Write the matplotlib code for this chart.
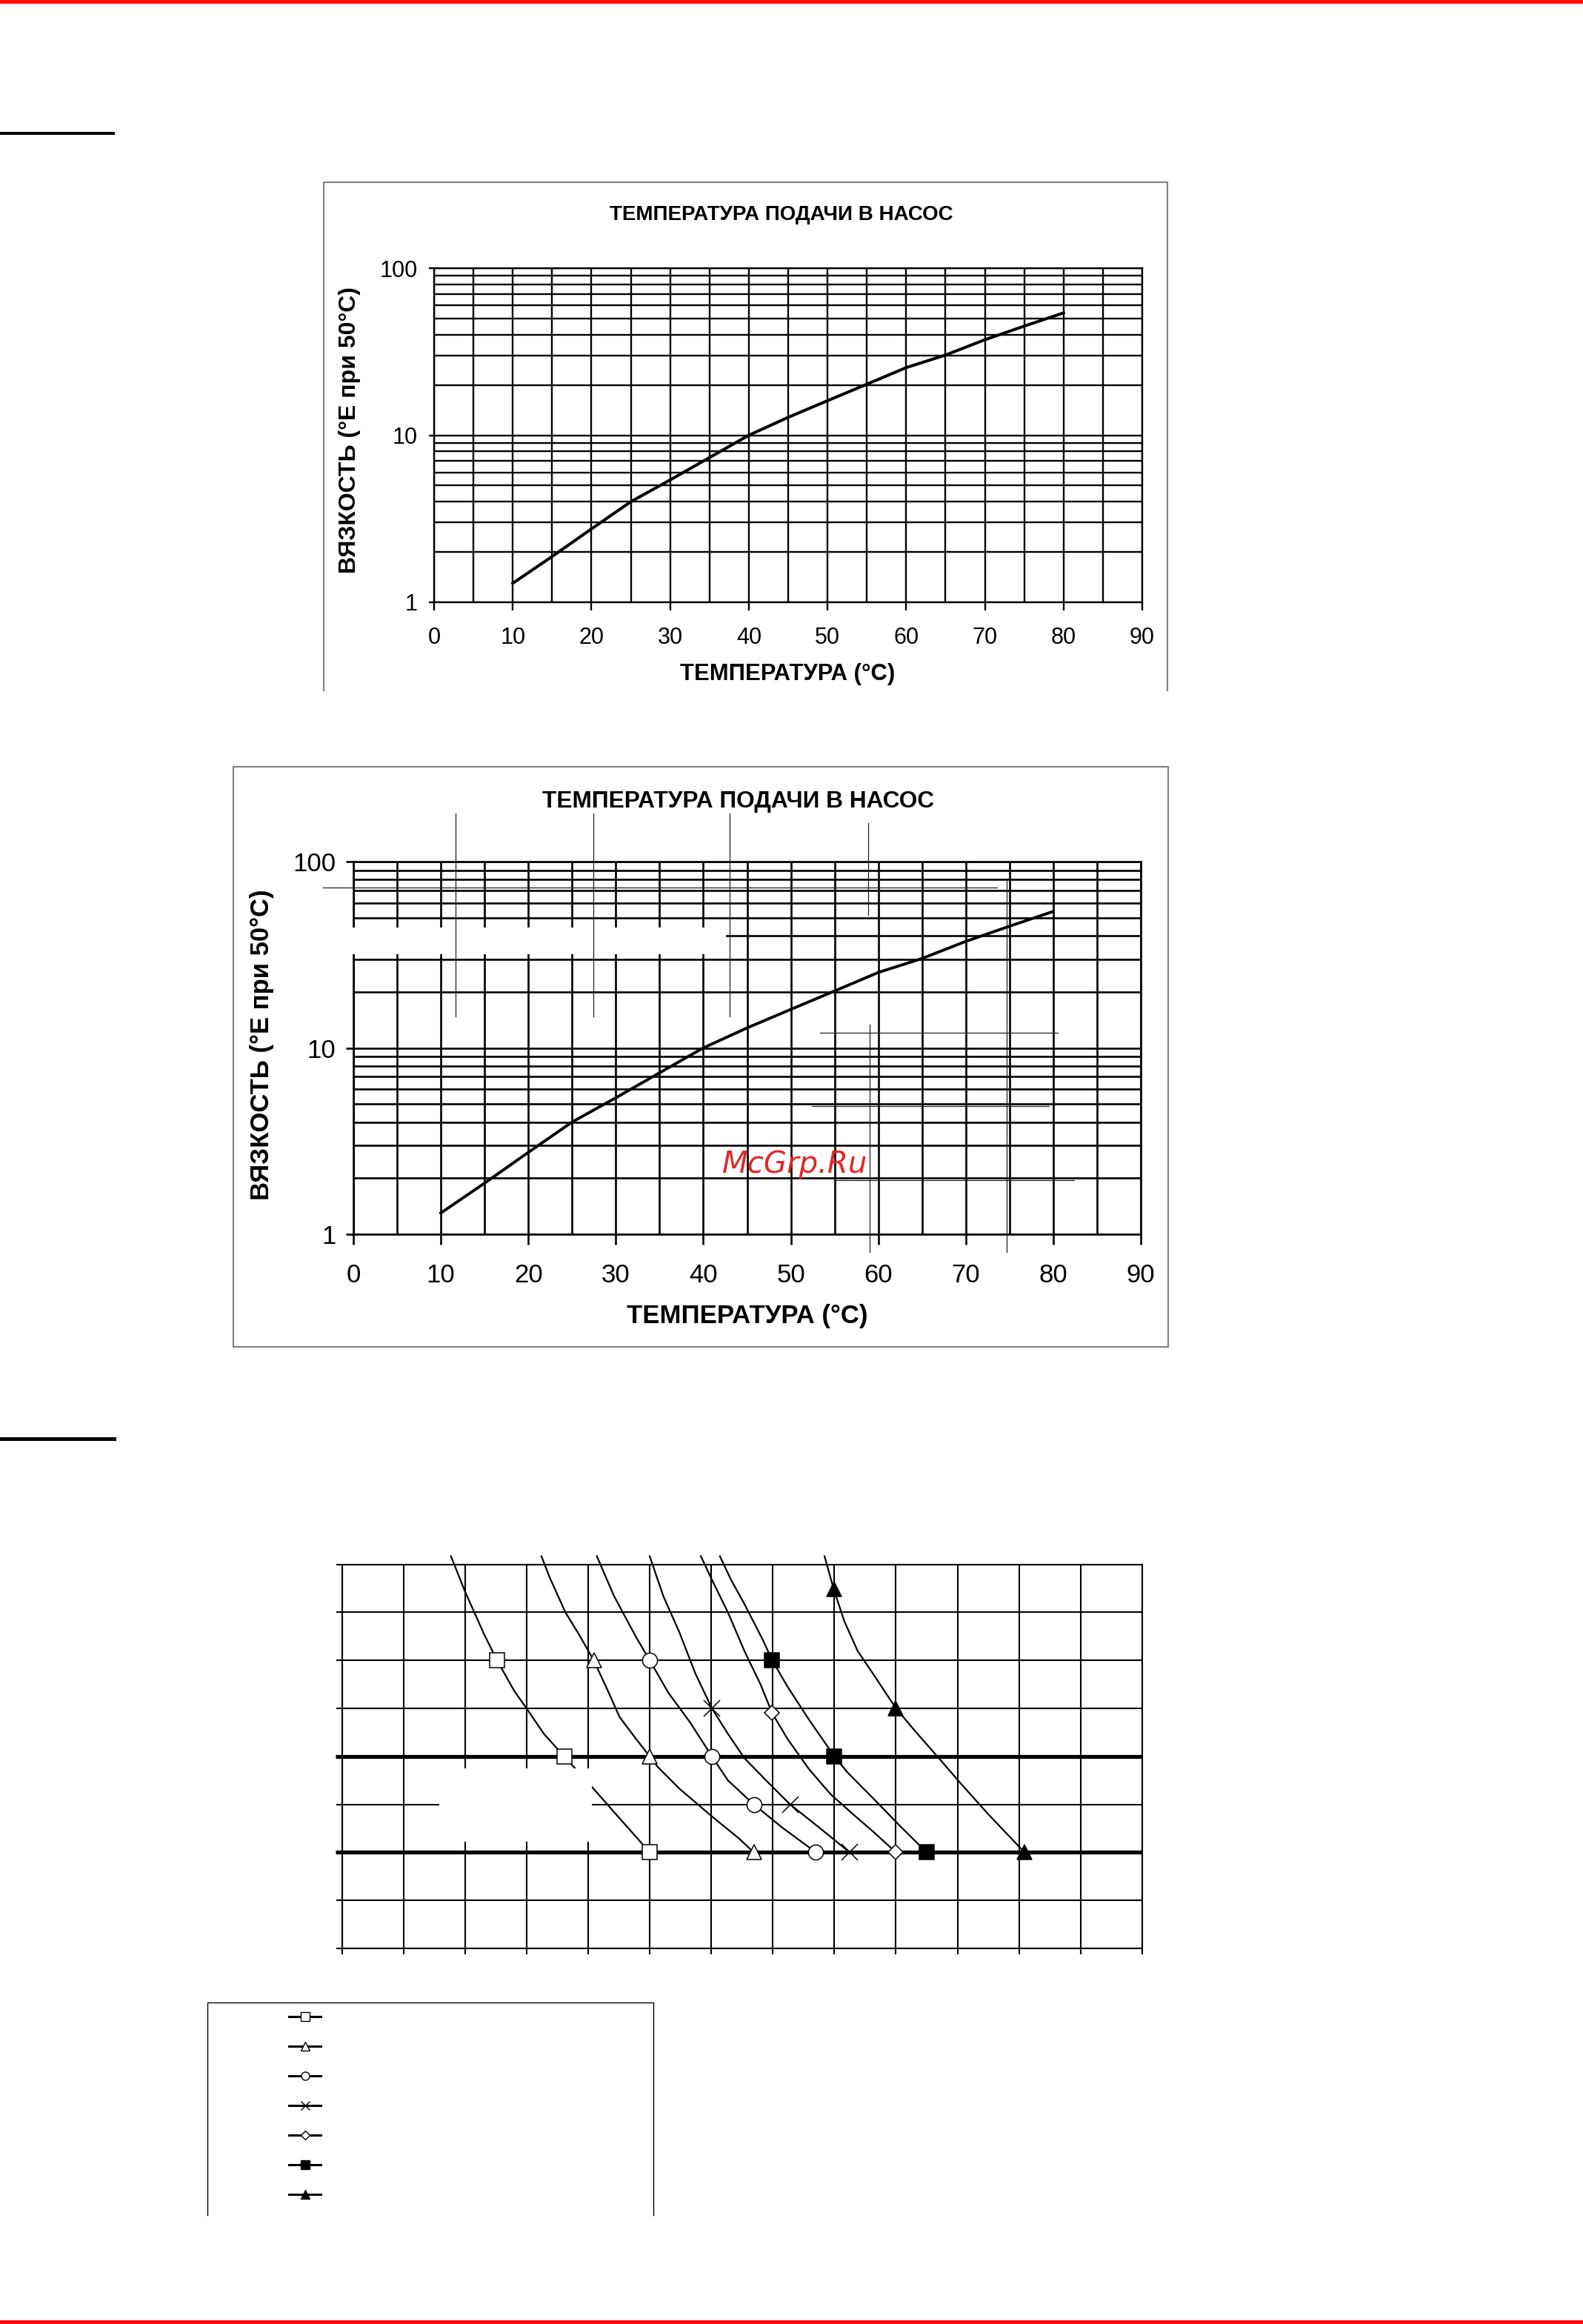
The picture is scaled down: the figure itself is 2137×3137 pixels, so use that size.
# страница с тремя графиками вязкости (скан инструкции)

import matplotlib
matplotlib.use("Agg")
import matplotlib.pyplot as plt
from matplotlib.patches import Rectangle
from matplotlib.ticker import FixedLocator, NullFormatter

W, H = 2137, 3137

plt.rcParams['font.family'] = ['Liberation Sans', 'DejaVu Sans']

# --- графики 1 и 2: вязкость от температуры ---
temp = [10, 15, 20, 25, 30, 35, 40, 45, 50, 55, 60, 65, 70, 75, 80]
visc = [1.3, 1.88, 2.75, 4.0, 5.4, 7.35, 10.0, 12.8, 16.1, 20.2, 25.4, 30.2, 37.3, 45.0, 54.0]
x_ticks = [0, 10, 20, 30, 40, 50, 60, 70, 80, 90]
x_minor = [5, 15, 25, 35, 45, 55, 65, 75, 85]
y_ticks = [1, 10, 100]
y_labels = ["1", "10", "100"]
y_minor = [2, 3, 4, 5, 6, 7, 8, 9, 20, 30, 40, 50, 60, 70, 80, 90]
title_txt = "ТЕМПЕРАТУРА ПОДАЧИ В НАСОС"
xlabel_txt = "ТЕМПЕРАТУРА (°C)"
ylabel_txt = "ВЯЗКОСТЬ (°E при 50°C)"

# --- график 3: семь кривых без подписей ---
s1_x = [17.7, 20.0, 23.1, 25.2, 28.0, 30.2, 32.8, 36.1, 40.7, 44.2, 47.8, 50.0]
s1_y = [8.17, 7.43, 6.54, 6.0, 5.36, 4.96, 4.47, 4.0, 3.35, 2.84, 2.32, 2.0]
s1_mx = [25.2, 36.1, 50.0]
s1_my = [6, 4, 2]

s2_x = [32.4, 33.7, 36.3, 38.5, 40.9, 42.9, 45.1, 47.8, 50.0, 51.3, 54.8, 60.1, 64.5, 66.9]
s2_y = [8.17, 7.74, 7.0, 6.54, 6.0, 5.45, 4.82, 4.36, 4.0, 3.78, 3.33, 2.75, 2.29, 2.0]
s2_mx = [40.9, 50.0, 66.9]
s2_my = [6, 4, 2]

s3_x = [41.4, 44.2, 47.8, 50.0, 53.0, 56.6, 60.1, 62.7, 66.9, 71.5, 77.0]
s3_y = [8.17, 7.34, 6.48, 6.0, 5.33, 4.70, 4.0, 3.50, 3.0, 2.52, 2.0]
s3_mx = [50.0, 60.1, 66.9, 77.0]
s3_my = [6, 4, 3, 2]

s4_x = [50.0, 52.2, 54.8, 57.4, 60.1, 62.7, 65.4, 68.9, 72.8, 77.7, 82.5]
s4_y = [8.17, 7.34, 6.59, 5.73, 5.0, 4.47, 3.96, 3.50, 3.0, 2.50, 2.0]
s4_mx = [60.1, 72.8, 82.5]
s4_my = [5, 3, 2]

s5_x = [58.3, 60.1, 62.7, 65.4, 68.0, 69.9, 72.4, 75.9, 79.4, 82.9, 86.5, 90.0]
s5_y = [8.17, 7.68, 7.0, 6.19, 5.50, 4.90, 4.36, 3.73, 3.21, 2.81, 2.41, 2.0]
s5_mx = [69.9, 90.0]
s5_my = [4.9, 2.0]

s6_x = [61.4, 63.2, 65.4, 68.4, 69.9, 72.4, 75.9, 80.0, 82.1, 86.5, 90.9, 95.0]
s6_y = [8.17, 7.68, 7.17, 6.42, 6.0, 5.45, 4.76, 4.0, 3.67, 3.10, 2.52, 2.0]
s6_mx = [69.9, 80.0, 95.0]
s6_my = [6, 4, 2]

s7_x = [78.4, 79.9, 81.6, 83.8, 86.5, 90.0, 93.5, 97.0, 100.5, 104.9, 110.9]
s7_y = [8.17, 7.48, 6.82, 6.19, 5.68, 5.0, 4.47, 3.96, 3.44, 2.81, 2.0]
s7_mx = [79.9, 90.0, 110.9]
s7_my = [7.48, 5.0, 2.0]

thick_levels = [2, 4]


def rect(x0, y0, x1, y1):
    # пиксели страницы -> доли фигуры
    return [x0 / W, 1 - y1 / H, (x1 - x0) / W, (y1 - y0) / H]


def visc_chart(box, fs, lw_grid, lw_curve, xlen, ylen, xpad, ypad):
    ax = fig.add_axes(rect(*box))
    ax.set_yscale('log')
    ax.set_xlim(0, 90)
    ax.set_ylim(1, 100)
    ax.set_xticks(x_ticks)
    ax.set_xticks(x_minor, minor=True)
    ax.set_yticks(y_ticks, labels=y_labels)
    ax.yaxis.set_minor_locator(FixedLocator(y_minor))
    ax.yaxis.set_minor_formatter(NullFormatter())
    ax.grid(which='both', color='k', linewidth=lw_grid)
    ax.tick_params(which='minor', length=0)
    ax.tick_params(axis='x', which='major', length=xlen, width=lw_grid,
                   pad=xpad, labelsize=fs)
    ax.tick_params(axis='y', which='major', length=ylen, width=lw_grid,
                   pad=ypad, labelsize=fs)
    for sp in ax.spines.values():
        sp.set_linewidth(lw_grid)
    ax.plot(temp, visc, color='k', linewidth=lw_curve, solid_joinstyle='round')
    return ax


fig = plt.figure(figsize=(W / 100, H / 100), dpi=100)

# график 1
visc_chart((586, 362, 1542, 813), 22, 1.7, 2.9, 8, 5, 16, 11)
fig.text(1055 / W, 1 - 290 / H, title_txt, ha='center', va='center',
         fontsize=20, fontweight='bold')
fig.text(1063 / W, 1 - 910 / H, xlabel_txt, ha='center', va='center',
         fontsize=22.3, fontweight='bold')
fig.text(472 / W, 1 - 580 / H, ylabel_txt, ha='center', va='center',
         rotation=90, fontsize=23, fontweight='bold')

# график 2
visc_chart((477, 1163, 1540, 1666), 25, 1.9, 2.8, 10, 7, 18, 10)
fig.text(997 / W, 1 - 1082 / H, title_txt, ha='center', va='center',
         fontsize=22.8, fontweight='bold')
fig.text(1009 / W, 1 - 1776 / H, xlabel_txt, ha='center', va='center',
         fontsize=25, fontweight='bold')
fig.text(354 / W, 1 - 1410 / H, ylabel_txt, ha='center', va='center',
         rotation=90, fontsize=25, fontweight='bold')
fig.text(1073 / W, 1 - 1583 / H, "McGrp.Ru", ha='center', va='baseline',
         fontsize=29, family='DejaVu Sans', style='italic', color='#e02828',
         zorder=20)

# график 3
ax3 = fig.add_axes(rect(461.7, 2111.6, 1541.8, 2630))
ax3.set_xlim(0, 130)
ax3.set_ylim(0, 8)
ax3.set_xticks(range(0, 131, 10))
ax3.set_yticks(range(0, 9))
ax3.set_axisbelow(True)
ax3.grid(color='k', linewidth=1.5)
ax3.tick_params(labelbottom=False, labelleft=False, length=6, width=1.5)
for sp in ax3.spines.values():
    sp.set_linewidth(1.5)
ax3.hlines(thick_levels, -1.1, 130, color='k', linewidth=3.8, clip_on=False, zorder=2)

series = [
    (s1_x, s1_y, s1_mx, s1_my, 's', 'white', 14),
    (s2_x, s2_y, s2_mx, s2_my, '^', 'white', 14.5),
    (s3_x, s3_y, s3_mx, s3_my, 'o', 'white', 14.5),
    (s4_x, s4_y, s4_mx, s4_my, 'x', 'white', 16),
    (s5_x, s5_y, s5_mx, s5_my, 'D', 'white', 10),
    (s6_x, s6_y, s6_mx, s6_my, 's', 'black', 14),
    (s7_x, s7_y, s7_mx, s7_my, '^', 'black', 14.5),
]
for cx, cy, mx, my, mk, fc, ms in series:
    ax3.plot(cx, cy, color='k', linewidth=1.6, clip_on=False, zorder=3)
    ax3.plot(mx, my, linestyle='none', marker=mk, markersize=ms,
             markerfacecolor=fc, markeredgecolor='k', markeredgewidth=1.1,
             clip_on=False, zorder=4)

# легенда без подписей
axl = fig.add_axes(rect(280, 2703, 882, 2990))
axl.set_xlim(0, 602)
axl.set_ylim(287, 0)
axl.axis('off')
axl.plot([0, 0, 602, 602], [287, 0, 0, 287], color='k', linewidth=1, clip_on=False)
leg_ms = [8, 8.3, 8, 8.5, 5.8, 8, 8.3]
for i, (cx, cy, mx, my, mk, fc, ms) in enumerate(series):
    y = 19 + 40 * i
    axl.plot([110, 132, 153], [y, y, y], color='k', linewidth=2.2,
             marker=mk, markevery=[1], markersize=leg_ms[i],
             markerfacecolor=fc, markeredgecolor='k', markeredgewidth=1.0)

# слой страницы: рамки, полосы и следы стёртого текста
page = fig.add_axes([0, 0, 1, 1], zorder=10)
page.set_xlim(0, W)
page.set_ylim(H, 0)
page.axis('off')

page.add_patch(Rectangle((0, 0), W, 4.5, color='#ff0a0a', lw=0))
page.add_patch(Rectangle((0, 3132), W, 5, color='#ff0a0a', lw=0))
page.add_patch(Rectangle((0, 177.5), 155, 4, color='k', lw=0))
page.add_patch(Rectangle((0, 1940), 157, 4.5, color='k', lw=0))

frame_c = '#808080'
page.plot([437, 437, 1576, 1576], [932, 246, 246, 932], color=frame_c, lw=1.5)
page.add_patch(Rectangle((315, 1035), 1262, 783, fill=False, ec=frame_c, lw=1.5))

page.add_patch(Rectangle((473, 1252), 507, 36, color='white', lw=0))
page.add_patch(Rectangle((593, 2387), 206, 99, color='white', lw=0))

thin = dict(color='#202020', lw=0.9)
for x in [615, 801, 985]:
    page.plot([x, x], [1098, 1372], **thin)
page.plot([1172, 1172], [1111, 1235], **thin)
page.plot([1174, 1174], [1383, 1690], **thin)
page.plot([1359, 1359], [1189, 1690], **thin)
page.plot([436, 1346], [1198, 1198], **thin)
page.plot([1107, 1428], [1394, 1394], **thin)
page.plot([1096, 1416], [1493, 1493], **thin)
page.plot([1129, 1450], [1593, 1593], **thin)

fig.savefig('out.png', dpi=100, facecolor='white')
